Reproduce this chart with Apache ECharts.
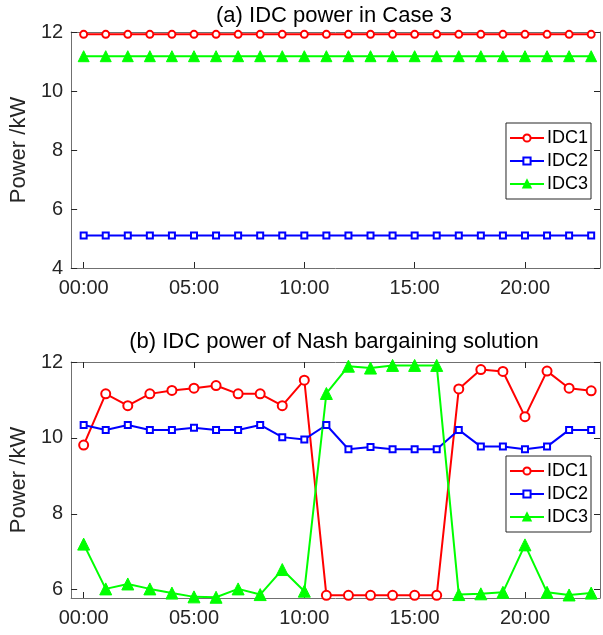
<!DOCTYPE html>
<html>
<head>
<meta charset="utf-8">
<script src="https://cdn.jsdelivr.net/npm/echarts@6/dist/echarts.min.js"></script>
<style>
html,body{margin:0;padding:0;background:#fff;}
#chart{width:603px;height:635px;}
</style>
</head>
<body>
<div id="chart"></div>
<script>
// Hours 0..23
const hours = [0,1,2,3,4,5,6,7,8,9,10,11,12,13,14,15,16,17,18,19,20,21,22,23];
const xTickValues = [0,5,10,15,20];
const yTicksA = [4,6,8,10,12];
const yTicksB = [6,8,10,12];

// (a) Case 3
const caseIDC1 = [11.92,11.92,11.92,11.92,11.92,11.92,11.92,11.92,11.92,11.92,11.92,11.92,11.92,11.92,11.92,11.92,11.92,11.92,11.92,11.92,11.92,11.92,11.92,11.92];
const caseIDC2 = [5.1,5.1,5.1,5.1,5.1,5.1,5.1,5.1,5.1,5.1,5.1,5.1,5.1,5.1,5.1,5.1,5.1,5.1,5.1,5.1,5.1,5.1,5.1,5.1];
const caseIDC3 = [11.18,11.18,11.18,11.18,11.18,11.18,11.18,11.18,11.18,11.18,11.18,11.18,11.18,11.18,11.18,11.18,11.18,11.18,11.18,11.18,11.18,11.18,11.18,11.18];

// (b) Nash bargaining solution
const nashIDC1 = [9.81,11.16,10.85,11.16,11.25,11.31,11.38,11.16,11.16,10.85,11.52,5.85,5.85,5.85,5.85,5.85,5.85,11.29,11.80,11.75,10.56,11.76,11.31,11.24];
const nashIDC2 = [10.34,10.21,10.34,10.21,10.21,10.27,10.21,10.21,10.34,10.02,9.96,10.34,9.70,9.76,9.70,9.70,9.70,10.21,9.77,9.77,9.70,9.77,10.21,10.21];
const nashIDC3 = [7.20,6.02,6.15,6.02,5.91,5.81,5.80,6.02,5.87,6.53,5.96,11.17,11.89,11.84,11.91,11.91,11.91,5.87,5.89,5.93,7.18,5.93,5.86,5.91];

const pairs = (ys) => hours.map((h, i) => [h, ys[i]]);
const fmtHour = (v) => (v < 10 ? '0' + v : '' + v) + ':00';

const axisColor = '#707070';
const textColor = '#262626';
const FONT = 'Liberation Sans, Arial, sans-serif';

function xAxes(gridIndex) {
  const base = {
    type: 'value', gridIndex: gridIndex, min: -0.567, max: 23.4,
    axisLine: {show: true, onZero: false, lineStyle: {color: axisColor, width: 1}},
    splitLine: {show: false},
  };
  return [
    Object.assign({}, base, {
      position: 'bottom',
      axisTick: {show: true, inside: true, length: 6, customValues: xTickValues, lineStyle: {color: textColor}},
      axisLabel: {show: true, customValues: xTickValues, formatter: fmtHour, color: textColor, fontSize: 20, fontFamily: FONT, margin: 10}
    }),
    Object.assign({}, base, {
      position: 'top',
      axisTick: {show: true, inside: true, length: 6, customValues: xTickValues, lineStyle: {color: textColor}},
      axisLabel: {show: false}
    })
  ];
}
function yAxes(gridIndex, min, max, ticks) {
  const base = {
    type: 'value', gridIndex: gridIndex, min: min, max: max,
    axisLine: {show: true, onZero: false, lineStyle: {color: axisColor, width: 1}},
    splitLine: {show: false},
  };
  return [
    Object.assign({}, base, {
      position: 'left',
      name: 'Power /kW', nameLocation: 'middle', nameGap: 36,
      nameTextStyle: {fontSize: 22, color: textColor, fontFamily: FONT},
      axisTick: {show: true, inside: true, length: 6, customValues: ticks, lineStyle: {color: textColor}},
      axisLabel: {show: true, customValues: ticks, color: textColor, fontSize: 20, fontFamily: FONT, margin: 8}
    }),
    Object.assign({}, base, {
      position: 'right',
      axisTick: {show: true, inside: true, length: 6, customValues: ticks, lineStyle: {color: textColor}},
      axisLabel: {show: false}
    })
  ];
}

function mkSeries(name, data, color, symbol, size, xi, yi) {
  const filled = symbol === 'triangle';
  return {
    name: name, type: 'line', data: data, xAxisIndex: xi, yAxisIndex: yi,
    symbol: symbol, symbolSize: size, showAllSymbol: true,
    lineStyle: {color: color, width: 2},
    itemStyle: {color: color, borderColor: color, borderWidth: filled ? 1 : 2},
    emphasis: {disabled: true},
    animation: false
  };
}

const legendBase = {
  orient: 'vertical', right: 12, itemWidth: 34, itemHeight: 9, itemGap: 5,
  padding: [6, 3, 6, 3], borderColor: '#262626', borderWidth: 1, backgroundColor: '#fff',
  textStyle: {fontSize: 18, color: '#000', fontFamily: FONT, padding: [0, 0, 0, -2]},
  data: ['IDC1', 'IDC2', 'IDC3']
};

const chart = echarts.init(document.getElementById('chart'));
chart.setOption({
  animation: false,
  title: [
    {text: '(a) IDC power in Case 3', left: 334, top: 5, textAlign: 'center', padding: 0,
     textStyle: {fontSize: 22, fontWeight: 'normal', color: '#000', fontFamily: FONT}},
    {text: '(b) IDC power of Nash bargaining solution', left: 334, top: 331, textAlign: 'center', padding: 0,
     textStyle: {fontSize: 22, fontWeight: 'normal', color: '#000', fontFamily: FONT}}
  ],
  grid: [
    {left: 64, top: 32, width: 536, height: 236},
    {left: 64, top: 362, width: 536, height: 236}
  ],
  xAxis: xAxes(0).concat(xAxes(1)),
  yAxis: yAxes(0, 4, 12, yTicksA).concat(yAxes(1, 5.78, 12, yTicksB)),
  legend: [
    Object.assign({}, legendBase, {top: 123}),
    Object.assign({}, legendBase, {top: 456})
  ],
  series: [
    mkSeries('IDC1', pairs(caseIDC1), '#ff0000', 'emptyCircle', 7, 0, 0),
    mkSeries('IDC2', pairs(caseIDC2), '#0000ff', 'emptyRect', 6, 0, 0),
    mkSeries('IDC3', pairs(caseIDC3), '#00ff00', 'triangle', 11, 0, 0),
    mkSeries('IDC1', pairs(nashIDC1), '#ff0000', 'emptyCircle', 9, 2, 2),
    mkSeries('IDC2', pairs(nashIDC2), '#0000ff', 'emptyRect', 6, 2, 2),
    mkSeries('IDC3', pairs(nashIDC3), '#00ff00', 'triangle', 12, 2, 2)
  ]
});
</script>
</body>
</html>
